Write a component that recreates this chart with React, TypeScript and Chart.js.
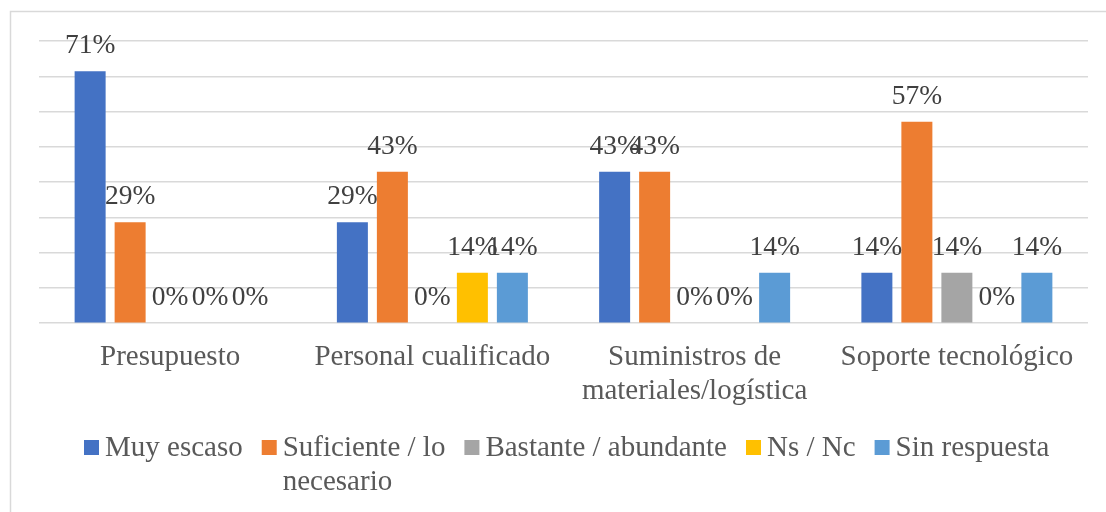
import React, { useEffect, useRef } from "react";
import { Chart, registerables } from "chart.js";

Chart.register(...registerables);

const categories: (string | string[])[] = [
  "Presupuesto",
  "Personal cualificado",
  ["Suministros de", "materiales/logística"],
  "Soporte tecnológico",
];

const seriesNames: string[][] = [
  ["Muy escaso"],
  ["Suficiente / lo", "necesario"],
  ["Bastante / abundante"],
  ["Ns / Nc"],
  ["Sin respuesta"],
];

const seriesColors = ["#4472C4", "#ED7D31", "#A5A5A5", "#FFC000", "#5B9BD5"];

const muyEscaso = [71.4, 28.6, 42.9, 14.3];
const suficiente = [28.6, 42.9, 42.9, 57.1];
const bastante = [0, 0, 0, 14.3];
const nsNc = [0, 14.3, 0, 0];
const sinRespuesta = [0, 14.3, 14.3, 14.3];

const seriesValues = [muyEscaso, suficiente, bastante, nsNc, sinRespuesta];

const yMax = 80;
const yStep = 10;

const FONT = "'Liberation Serif', 'Times New Roman', serif";

const framePlugin = {
  id: "frame",
  beforeDraw(chart: any) {
    const ctx = chart.ctx;
    ctx.save();
    ctx.fillStyle = "#ffffff";
    ctx.fillRect(0, 0, chart.width, chart.height);
    ctx.strokeStyle = "#d9d9d9";
    ctx.lineWidth = 1.5;
    ctx.strokeRect(10.5, 11.5, 1300, 700);
    ctx.restore();
  },
};

const labelPlugin = {
  id: "barLabels",
  afterDatasetsDraw(chart: any) {
    const ctx = chart.ctx;
    ctx.save();
    ctx.font = `27.5px ${FONT}`;
    ctx.fillStyle = "#404040";
    ctx.textAlign = "center";
    ctx.textBaseline = "alphabetic";
    chart.data.datasets.forEach((ds: any, i: number) => {
      const meta = chart.getDatasetMeta(i);
      meta.data.forEach((el: any, j: number) => {
        const v = ds.data[j] as number;
        ctx.fillText(`${Math.round(v)}%`, el.x, el.y - 18);
      });
    });
    ctx.restore();
  },
};

const legendPlugin = {
  id: "customLegend",
  afterDraw(chart: any) {
    const ctx = chart.ctx;
    ctx.save();
    ctx.font = `29px ${FONT}`;
    ctx.textBaseline = "alphabetic";
    ctx.textAlign = "left";
    let x = 84;
    const base = 456;
    const lh = 34;
    seriesNames.forEach((lines, i) => {
      ctx.fillStyle = seriesColors[i];
      ctx.fillRect(x, 440, 15, 15);
      ctx.fillStyle = "#595959";
      const tx = x + 21;
      lines.forEach((t, k) => ctx.fillText(t, tx, base + k * lh));
      const w = ctx.measureText(lines[0]).width;
      x = tx + w + 19;
    });
    ctx.restore();
  },
};

export default function App() {
  const ref = useRef<HTMLCanvasElement | null>(null);

  useEffect(() => {
    if (!ref.current) return;
    const chart = new Chart(ref.current, {
      type: "bar",
      data: {
        labels: categories as any,
        datasets: seriesValues.map((vals, i) => ({
          label: seriesNames[i].join(" "),
          data: vals,
          backgroundColor: seriesColors[i],
          borderWidth: 0,
          categoryPercentage: 0.7626,
          barPercentage: 0.775,
        })),
      },
      options: {
        animation: false,
        responsive: false,
        maintainAspectRatio: false,
        layout: { padding: { left: 39, right: 18, top: 41, bottom: 87 } },
        plugins: {
          legend: { display: false },
          tooltip: { enabled: false },
        },
        scales: {
          x: {
            grid: { display: false, drawTicks: false },
            border: { display: false },
            ticks: {
              color: "#595959",
              padding: 17,
              maxRotation: 0,
              autoSkip: false,
              font: { family: FONT, size: 29, lineHeight: 1.17 },
            },
          },
          y: {
            min: 0,
            max: yMax,
            grid: { color: "#d9d9d9", lineWidth: 1.5, drawTicks: false },
            border: { display: false },
            ticks: { display: false, stepSize: yStep },
          },
        },
      },
      plugins: [framePlugin, labelPlugin, legendPlugin],
    });
    return () => chart.destroy();
  }, []);

  return (
    <div style={{ position: "absolute", left: 0, top: 0, width: 1106, height: 512 }}>
      <canvas ref={ref} width={1106} height={512} style={{ display: "block" }} />
    </div>
  );
}
